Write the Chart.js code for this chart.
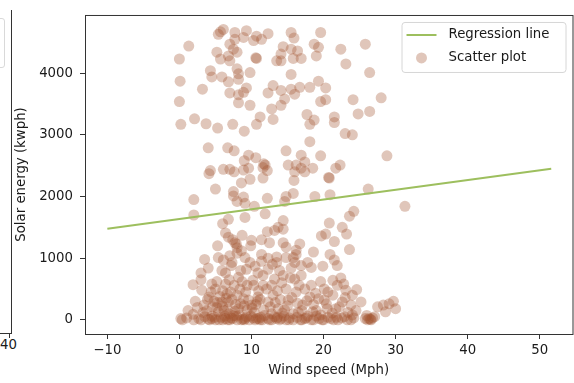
<!DOCTYPE html>
<html>
<head>
<meta charset="utf-8">
<script src="https://cdn.jsdelivr.net/npm/chart.js@4"></script>
<style>
  body { margin: 0; width: 574px; height: 383px; overflow: hidden; background: #fff; position: relative; font-family: 'DejaVu Sans', sans-serif; }
  #plot { position: absolute; left: 0; top: 0; }
  .edge { position: absolute; background: #333; }
  #prevLegend { position: absolute; left: -20px; top: 18px; width: 23px; height: 48px; border: 1px solid #d9d9d9; border-radius: 3px; }
  #prevTick { position: absolute; left: 0px; top: 337px; font-size: 13.3px; color: #1a1a1a; }
</style>
</head>
<body>
<!-- right edge of the neighbouring subplot -->
<div id="prevLegend"></div>
<div class="edge" style="left:11px;top:10px;width:1px;height:324px"></div>
<div class="edge" style="left:0;top:333px;width:12px;height:1px"></div>
<div class="edge" style="left:9px;top:333px;width:1px;height:5px"></div>
<div id="prevTick">40</div>

<canvas id="plot" width="578" height="383"></canvas>
<script>
Chart.defaults.font.family = "'DejaVu Sans', sans-serif";
Chart.defaults.font.size = 13.3;
Chart.defaults.color = '#1a1a1a';

const xTicks = [-10, 0, 10, 20, 30, 40, 50];
const yTicks = [0, 1000, 2000, 3000, 4000];

const regressionX = [-10, 51.6];
const regressionY = [1477, 2450];

// [wind speed, solar energy]
const scatterPoints = [
  [1.3,4440],[0.0,4230],[0.1,3870],[5.7,4670],[6.1,4710],[5.4,4630],[7.7,4660],[9.3,4690],[10.7,4600],[12.3,4640],
  [11.4,4550],[10.3,4530],[8.9,4580],[7.7,4550],[7.0,4470],[7.5,4390],[8.0,4340],[5.2,4340],[5.7,4230],[6.8,4280],
  [7.0,4200],[10.7,4240],[10.6,4250],[8.0,4070],[4.3,4040],[4.5,3940],[5.9,3940],[8.2,3990],[9.8,4010],[6.8,3860],
  [8.2,3900],[15.5,4660],[15.9,4570],[19.6,4660],[14.4,4430],[15.5,4390],[16.4,4360],[14.1,4310],[13.5,4200],[14.1,4200],
  [15.8,4240],[16.9,4240],[18.7,4470],[19.3,4420],[19.0,4280],[22.4,4390],[25.8,4470],[23.1,4150],[26.4,4010],[15.5,3980],
  [19.3,3870],
  [3.2,3740],[0.0,3540],[7.0,3680],[8.2,3650],[9.3,3760],[8.9,3690],[8.2,3520],[9.8,3480],[13.0,3800],[12.3,3680],
  [14.1,3720],[15.5,3740],[16.7,3770],[16.0,3660],[18.1,3770],[20.3,3760],[14.6,3580],[14.1,3480],[12.8,3420],[19.6,3540],
  [20.3,3570],[24.1,3570],[28.0,3600],[24.8,3340],[26.4,3380],[17.7,3330],[18.7,3240],[18.1,3170],[21.5,3290],[21.5,3200],
  [23.0,3020],[24.0,3000],[11.2,3290],[10.7,3170],[13.0,3250],[0.2,3170],[2.1,3260],[3.7,3180],[5.3,3110],[7.4,3170],
  [9.0,3060],[18.1,2890],[4.0,2790],[6.7,2790],
  [7.6,2740],[9.6,2670],[9.0,2580],[10.6,2630],[14.8,2740],[16.9,2670],[19.6,2660],[28.8,2660],[15.1,2510],[16.2,2510],
  [17.4,2560],[17.4,2400],[16.0,2400],[18.5,2460],[16.9,2460],[11.9,2510],[11.7,2530],[12.2,2420],[11.6,2470],[4.3,2420],
  [4.1,2370],[6.1,2440],[7.0,2440],[7.6,2400],[8.9,2430],[9.6,2460],[11.6,2300],[9.8,2280],[8.6,2220],[15.9,2260],
  [20.8,2300],[20.7,2310],[21.7,2460],[22.3,2510],[5.0,2120],[7.5,2080],[7.5,2010],[8.9,1990],[8.0,1920],[9.1,1890],
  [2.0,1950],[12.2,1970],[14.8,2000],[15.8,2050],[14.6,1920],[18.8,2000],[20.9,2030],[26.2,2120],[24.2,1760],[31.3,1840],
  [10.4,1840],
  [2.0,1700],[9.1,1660],[11.9,1720],[6.8,1630],[6.0,1560],[14.4,1610],[14.4,1470],[13.7,1500],[12.2,1430],[13.2,1450],
  [20.8,1570],[23.6,1680],[22.6,1500],[23.2,1390],[20.3,1390],[19.7,1360],[6.4,1410],[6.8,1340],[8.7,1370],[5.3,1200],
  [7.7,1250],[7.9,1230],[8.0,1170],[10.0,1290],[11.4,1300],[12.5,1250],[14.4,1250],[14.8,1180],[16.7,1230],[16.2,1130],
  [21.5,1270],[23.6,1140],[3.5,980],[5.4,1010],[6.1,970],[7.0,1040],[7.3,930],[8.6,1120],[9.1,1010],[9.8,930],
  [11.4,1060],[11.4,950],[12.3,1000],[13.5,1020],[13.5,930],[14.8,1010],[15.8,1010],[16.2,1060],[16.0,930],[17.8,930],
  [20.9,1060],[21.5,970],[19.9,870],[4.0,840],[5.9,800],[9.3,820],[10.5,870],[12.3,820],[15.5,840],[18.3,850],
  [3.0,760],[6.4,760],[7.2,880],[8.0,1080],[8.5,800],[9.9,1200],[10.9,760],[12.9,900],[13.9,800],[16.9,880],
  [18.6,1100],[21.9,880],[7.4,1300],
  [3.0,650],[4.4,450],[5.2,620],[6.0,470],[6.9,650],[7.6,560],[8.7,620],[9.4,560],[10.2,640],[11.0,470],
  [11.6,560],[12.8,560],[13.6,470],[14.2,600],[15.4,680],[16.6,560],[17.4,500],[18.9,430],[19.6,620],[20.6,450],
  [21.3,640],[22.8,580],[24.0,400],
  [0.2,20],[1.9,570],[1.9,90],[3.1,480],[2.7,20],[3.4,240],[4.5,580],[4.1,370],[4.5,20],[5.4,130],
  [6.4,580],[6.6,420],[6.8,290],[6.4,20],[7.5,70],[8.2,690],[8.4,500],[8.9,340],[8.2,180],[9.1,20],
  [10.3,560],[10.0,240],[10.7,20],[10.9,370],[11.6,720],[12.1,500],[12.3,290],[12.3,20],[13.2,660],[13.0,400],
  [13.7,180],[14.1,20],[14.4,720],[14.8,500],[15.1,320],[15.8,100],[16.0,660],[16.2,450],[16.9,720],[17.1,240],
  [17.4,20],[18.3,560],[18.1,370],[19.0,150],[19.4,20],[20.1,500],[20.1,320],[21.0,20],[21.3,400],[21.7,180],
  [21.9,560],[22.4,680],[22.6,290],[22.9,50],[23.1,480],[23.8,240],[24.6,490],[26.0,70],[26.3,20],[26.8,30],
  [27.5,210],[28.3,240],[28.6,130],[29.1,260],[29.7,300],[30.0,180],[5.0,500],[5.9,290],
  [2.5,200],[3.3,120],[3.9,330],[4.6,210],[5.3,280],[6.0,220],[6.7,170],[7.3,330],[7.7,140],[8.5,260],
  [9.0,230],[9.6,320],[10.1,190],[10.6,250],[11.2,330],[11.7,160],[12.6,210],[13.3,280],[14.0,330],[14.3,110],
  [15.0,230],[15.6,360],[16.4,270],[17.0,150],[17.7,310],[18.5,130],[19.3,340],[20.4,260],[21.2,110],[22.2,210],
  [23.0,360],[24.5,150],[25.2,290],
  [4.5,60],[5.2,200],[5.8,40],[6.2,150],[6.9,100],[7.2,30],[7.8,250],[8.3,80],[8.8,10],[9.4,160],
  [9.9,60],[10.4,120],[10.8,300],[11.3,40],[6.5,350],[7.1,450],[5.6,380],[8.0,400],[9.2,450],[3.8,150],
  [4.8,300],[12.8,100],[13.6,40],[14.6,160],[15.3,30],[16.5,120],[17.8,60],[18.6,250],[19.6,80],[20.5,180],
  [21.8,40],[23.4,120],[24.2,30],[2.2,300],[1.2,150],[0.4,0],[3.0,0],[5.0,0],[6.0,0],[8.0,0],
  [9.0,0],[10.5,0],[11.5,0],[12.8,0],[14.8,0],[15.8,0],[17.0,0],[18.6,0],[20.0,0],[22.0,0],
  [23.8,0],[26.1,0],[26.5,10],[4.0,10],[7.0,0],[11.0,20],[13.5,20],
  [1.0,30],[2.0,0],[3.5,50],[4.2,0],[4.9,40],[5.5,0],[6.3,60],[6.7,0],[7.4,20],[7.9,60],
  [8.6,0],[9.3,50],[9.7,0],[10.2,30],[11.2,0],[11.8,70],[12.5,0],[13.2,50],[13.9,0],[14.5,60],
  [15.2,0],[16.3,40],[16.8,0],[17.6,30],[18.3,0],[19.0,60],[19.8,0],[20.6,40],[21.4,0],[22.5,30],
  [23.3,0],[24.0,80],[25.8,20],[26.6,0],[27.1,50]
];

const lineColor = '#9dbf5e';
const dotColor = 'rgba(160, 82, 45, 0.33)';

const minusSign = v => v < 0 ? '\u2212' + Math.abs(v) : String(v);

// box around the axes plus the legend in the upper right
const frame = {
  id: 'frame',
  afterDraw(chart) {
    const {ctx, chartArea: a} = chart;
    ctx.save();
    ctx.strokeStyle = '#333';
    ctx.lineWidth = 1;
    ctx.strokeRect(a.left + 0.5, a.top + 0.5, a.right - a.left, a.bottom - a.top);

    const x = a.right - 171, y = a.top + 7, w = 164, h = 50;
    ctx.beginPath();
    ctx.roundRect(x + 0.5, y + 0.5, w, h, 3);
    ctx.fillStyle = 'rgba(255,255,255,0.8)';
    ctx.fill();
    ctx.strokeStyle = '#d6d6d6';
    ctx.stroke();

    const ds = chart.data.datasets;
    ctx.strokeStyle = lineColor;
    ctx.lineWidth = 2;
    ctx.beginPath();
    ctx.moveTo(x + 5, y + 13);
    ctx.lineTo(x + 35, y + 13);
    ctx.stroke();
    ctx.fillStyle = dotColor;
    ctx.beginPath();
    ctx.arc(x + 20, y + 36, 5.5, 0, Math.PI * 2);
    ctx.fill();

    ctx.fillStyle = '#1a1a1a';
    ctx.font = "13.3px 'DejaVu Sans'";
    ctx.textBaseline = 'middle';
    ctx.fillText(ds[0].label, x + 47, y + 13);
    ctx.fillText(ds[1].label, x + 47, y + 36);
    ctx.restore();
  }
};

new Chart(document.getElementById('plot'), {
  type: 'scatter',
  data: {
    datasets: [
      {
        type: 'line',
        label: 'Regression line',
        data: regressionX.map((x, i) => ({x: x, y: regressionY[i]})),
        borderColor: lineColor,
        borderWidth: 2,
        pointRadius: 0,
        fill: false,
        order: 0
      },
      {
        label: 'Scatter plot',
        data: scatterPoints.map(p => ({x: p[0], y: p[1]})),
        backgroundColor: dotColor,
        borderWidth: 0,
        pointRadius: 5.5,
        pointHoverRadius: 5.5,
        order: 1
      }
    ]
  },
  options: {
    responsive: false,
    animation: false,
    events: [],
    layout: {padding: {left: 0, top: 12.5, right: 1, bottom: 0}},
    plugins: {legend: {display: false}, tooltip: {enabled: false}},
    scales: {
      x: {
        type: 'linear',
        min: -13.1,
        max: 54.55,
        afterBuildTicks: s => { s.ticks = xTicks.map(v => ({value: v})); },
        afterFit: s => { s.height = 49; },
        ticks: {padding: 4, maxRotation: 0, callback: minusSign},
        grid: {drawOnChartArea: false, tickLength: 5, color: '#333'},
        border: {display: false},
        title: {display: true, text: 'Wind speed (Mph)', padding: {top: 4, bottom: 4.2}}
      },
      y: {
        type: 'linear',
        min: -230,
        max: 4944,
        afterBuildTicks: s => { s.ticks = yTicks.map(v => ({value: v})); },
        afterFit: s => { s.width = 85; },
        ticks: {padding: 7, callback: v => String(v)},
        grid: {drawOnChartArea: false, tickLength: 5, color: '#333'},
        border: {display: false},
        title: {display: true, text: 'Solar energy (kwph)', padding: {top: 13.7, bottom: 0}}
      }
    }
  },
  plugins: [frame]
});
</script>
</body>
</html>
